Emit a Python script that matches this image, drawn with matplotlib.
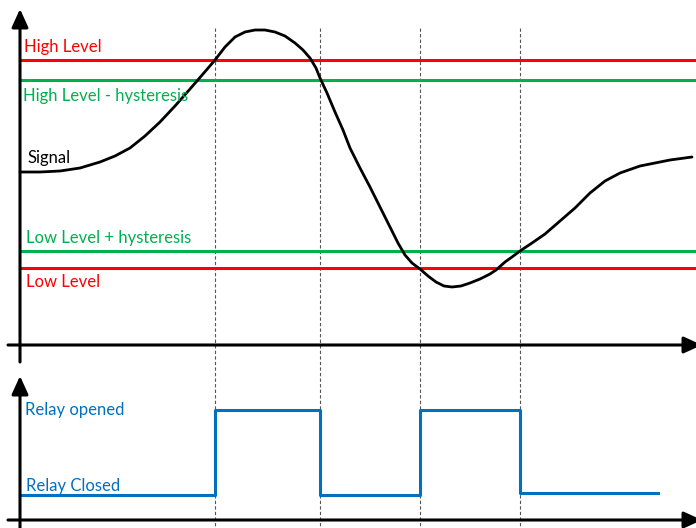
import numpy as np
import matplotlib.pyplot as plt

# Signal (x = time, y = screen row in px)
sig_t = [20, 40, 60, 80, 100, 115, 130, 145, 160, 175, 190, 203, 215, 225, 235, 245, 255,
         265, 275, 285, 295, 303, 310, 316, 320, 327, 335, 343, 350, 360, 370, 380, 390,
         398, 405, 412, 420, 428, 436, 444, 452, 461, 470, 480, 490, 496, 505, 512, 520,
         532, 545, 560, 575, 590, 605, 620, 640, 655, 670, 692]
sig_y = [172, 172, 171, 168, 162, 156, 148, 136, 122, 106, 89, 74, 60, 47, 37, 32, 30,
         30, 32, 36, 43, 50, 58, 68, 78, 93, 112, 130, 148, 168, 187, 207, 227,
         243, 255, 263, 269, 276, 282, 286, 287, 286, 283, 279, 274, 270, 262, 257, 251,
         243, 234, 221, 208, 193, 181, 173, 166, 163, 160, 157]

# Threshold levels (screen rows)
high_level = 60
high_hyst = 80
low_hyst = 251
low_level = 268

# Switching instants
switch_t = [215, 320, 420, 520]

# Relay state
relay_t = [20, 215, 215, 320, 320, 420, 420, 520, 520, 658]
relay_y = [495, 495, 410, 410, 495, 495, 410, 410, 493, 493]

RED = "#FF0000"
GREEN = "#00B050"
BLUE = "#0070C0"
FONT = "Lato"

fig = plt.figure(figsize=(6.96, 5.28), dpi=100)
ax = fig.add_axes([0, 0, 1, 1])
ax.set_xlim(0, 696)
ax.set_ylim(528, 0)
ax.axis("off")

# dashed switching guides
for t in switch_t:
    ax.plot([t, t], [28, 528], color="#555555", lw=0.8, ls=(0, (3, 2)), zorder=1)

# level lines
ax.plot([20, 696], [high_level] * 2, color=RED, lw=2.2, zorder=2)
ax.plot([20, 696], [high_hyst] * 2, color=GREEN, lw=2.2, zorder=2)
ax.plot([20, 696], [low_hyst] * 2, color=GREEN, lw=2.2, zorder=2)
ax.plot([20, 696], [low_level] * 2, color=RED, lw=2.2, zorder=2)

# signal
ax.plot(sig_t, sig_y, color="black", lw=2.0, zorder=3, solid_capstyle="round")

# relay
ax.plot(relay_t, relay_y, color=BLUE, lw=2.2, zorder=3)

# axes with arrows
arrow = dict(arrowstyle="-|>,head_length=1.1,head_width=0.5", color="black", lw=2.2,
             shrinkA=0, shrinkB=0)
ax.annotate("", xy=(20, 9), xytext=(20, 362), arrowprops=arrow, annotation_clip=False)
ax.annotate("", xy=(702, 345), xytext=(8, 345), arrowprops=arrow, annotation_clip=False)
ax.annotate("", xy=(20, 376), xytext=(20, 528), arrowprops=arrow, annotation_clip=False)
ax.annotate("", xy=(702, 520), xytext=(8, 520), arrowprops=arrow, annotation_clip=False)

# labels
kw = dict(fontsize=12, family=FONT, va="center", ha="left")
ax.text(24, 47, "High Level", color=RED, **kw)
ax.text(23, 96, "High Level - hysteresis", color=GREEN, **kw)
ax.text(27, 158, "Signal", color="black", **kw)
ax.text(26, 238, "Low Level + hysteresis", color=GREEN, **kw)
ax.text(26, 282, "Low Level", color=RED, **kw)
ax.text(25, 410, "Relay opened", color=BLUE, **kw)
ax.text(26, 486, "Relay Closed", color=BLUE, **kw)

fig.savefig("out.png", dpi=100)
